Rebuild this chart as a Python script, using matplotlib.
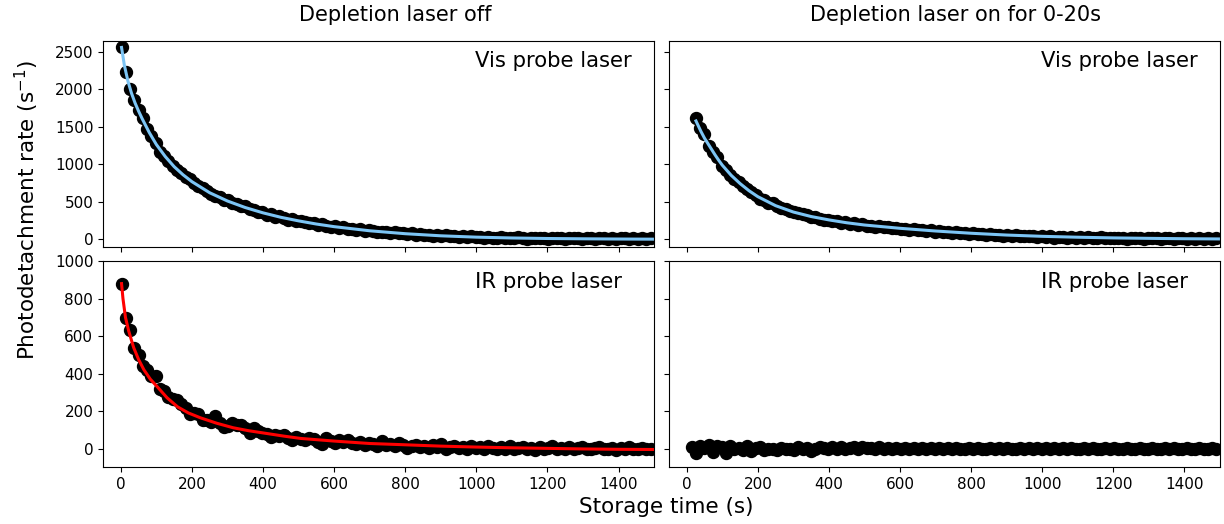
# Photodetachment rate vs storage time, 2x2 panel figure
import matplotlib
matplotlib.use("Agg")
import matplotlib.pyplot as plt

# ---------------------------------------
# Data
# ---------------------------------------
time_s = [
    2, 14, 26, 38, 50, 62, 74, 86, 98, 110,
    122, 134, 146, 158, 170, 182, 194, 206, 218, 230,
    242, 254, 266, 278, 290, 302, 314, 326, 338, 350,
    362, 374, 386, 398, 410, 422, 434, 446, 458, 470,
    482, 494, 506, 518, 530, 542, 554, 566, 578, 590,
    602, 614, 626, 638, 650, 662, 674, 686, 698, 710,
    722, 734, 746, 758, 770, 782, 794, 806, 818, 830,
    842, 854, 866, 878, 890, 902, 914, 926, 938, 950,
    962, 974, 986, 998, 1010, 1022, 1034, 1046, 1058, 1070,
    1082, 1094, 1106, 1118, 1130, 1142, 1154, 1166, 1178, 1190,
    1202, 1214, 1226, 1238, 1250, 1262, 1274, 1286, 1298, 1310,
    1322, 1334, 1346, 1358, 1370, 1382, 1394, 1406, 1418, 1430,
    1442, 1454, 1466, 1478, 1490,
]

# Vis probe, depletion laser off (all time bins)
vis_off = [
    2570, 2230, 2010, 1860, 1720, 1620, 1470, 1380, 1280, 1170,
    1110, 1040, 975, 930, 880, 830, 800, 750, 710, 690,
    640, 605, 585, 560, 520, 520, 480, 475, 440, 440,
    400, 395, 360, 365, 330, 335, 300, 310, 290, 265,
    275, 250, 240, 230, 215, 220, 195, 200, 185, 170,
    175, 155, 160, 140, 145, 130, 135, 115, 125, 110,
    105, 95, 100, 85, 95, 80, 85, 70, 80, 65,
    70, 55, 65, 50, 60, 45, 55, 40, 50, 35,
    45, 30, 40, 30, 35, 20, 30, 25, 15, 30,
    20, 25, 15, 30, 20, 10, 25, 20, 15, 25,
    10, 20, 15, 25, 10, 20, 15, 20, 10, 25,
    15, 10, 20, 15, 10, 20, 5, 15, 20, 10,
    15, 5, 20, 10, 15,
]

# Vis probe, depletion laser on (starts at the 3rd time bin)
vis_on = [
    1620, 1480, 1400, 1250, 1170, 1100, 980, 930,
    860, 810, 760, 710, 670, 630, 590, 540, 525, 490,
    480, 445, 420, 410, 385, 360, 355, 335, 325, 300,
    295, 275, 265, 260, 245, 240, 225, 230, 210, 215,
    195, 200, 180, 185, 170, 175, 160, 165, 150, 155,
    140, 145, 130, 135, 120, 130, 110, 120, 105, 110,
    95, 105, 90, 95, 80, 90, 75, 85, 70, 75,
    60, 70, 55, 65, 50, 60, 45, 55, 40, 50,
    40, 45, 35, 40, 30, 40, 25, 35, 30, 20,
    35, 25, 30, 20, 30, 25, 15, 30, 20, 25,
    15, 25, 20, 10, 25, 15, 20, 10, 20, 15,
    25, 10, 20, 15, 10, 20, 15, 5, 20, 10,
    15, 10, 20, 5, 15,
]

# IR probe, depletion laser off (all time bins)
ir_off = [
    880, 695, 635, 535, 500, 440, 420, 385, 385, 320,
    305, 275, 265, 260, 240, 215, 185, 190, 185, 150,
    150, 140, 175, 135, 115, 120, 135, 125, 128, 110,
    85, 110, 95, 85, 80, 60, 70, 65, 75, 55,
    48, 60, 50, 45, 57, 50, 35, 25, 57, 40,
    30, 45, 35, 48, 30, 25, 35, 20, 30, 25,
    15, 39, 20, 25, 15, 30, 20, 5, 15, 20,
    10, 15, 5, 20, 10, 25, 0, 10, 15, 5,
    10, 0, 15, 5, 10, 0, 15, 5, -5, 10,
    0, 15, -5, 5, 10, 0, 5, -10, 10, 0,
    5, 15, -5, 5, 0, 10, -5, 5, 10, 0,
    -5, 5, 10, -5, 0, 5, -10, 5, 0, 10,
    -5, 0, 5, -5, 0,
]

# IR probe, depletion laser on (starts at the 2nd time bin)
ir_on = [
    10, -25, 15, 5, 18, -20, 15, 10, -25,
    15, 0, 5, -10, 15, -15, 5, 10, -10, 0,
    -5, -10, 5, -5, 0, -10, 10, -5, 5, -15,
    0, 10, 5, -5, 8, 0, 10, -5, 5, 8,
    -5, 10, 3, 5, 0, 8, -3, 5, 0, 3,
    -2, 5, 0, 3, -3, 2, 0, 5, -3, 2,
    0, 5, -2, 3, -5, 0, 2, -3, 4, -2,
    0, 3, -3, 2, 0, 4, -2, 0, 2, -3,
    3, 0, 2, -2, 3, 0, 5, -2, 2, 0,
    4, -3, 0, 2, -2, 3, 0, -3, 2, 0,
    3, -2, 0, 2, -3, 0, 3, 0, -2, 2,
    0, -3, 2, 0, 3, -2, 0, 2, -3, 0,
    2, 0, -2, 3, 0,
]

# Fitted curves (sampled off the figure)
fit_t_vis_off = [2, 10, 20, 30, 40, 50, 60, 80, 100, 125, 150, 175, 200, 250, 300,
                 350, 400, 450, 500, 550, 600, 700, 800, 900, 1000, 1100, 1200, 1300, 1400, 1500]
fit_vis_off = [2560, 2320, 2110, 1950, 1820, 1710, 1610, 1425, 1265, 1105, 970, 862, 770, 622, 512,
               425, 354, 295, 247, 205, 170, 115, 76, 48, 30, 19, 12, 8, 5, 3]

fit_t_vis_on = [26, 40, 50, 60, 70, 80, 90, 100, 125, 150, 175, 200, 250, 300, 350,
                400, 450, 500, 600, 700, 800, 900, 1000, 1100, 1200, 1300, 1400, 1500]
fit_vis_on = [1580, 1440, 1350, 1275, 1200, 1125, 1055, 990, 855, 745, 650, 570, 450, 365, 305,
              260, 222, 192, 148, 112, 82, 58, 41, 29, 20, 14, 9, 6]

fit_t_ir_off = [2, 6, 13, 22, 36, 50, 65, 83, 100, 130, 160, 190, 224, 270, 316,
                360, 412, 460, 506, 600, 700, 788, 900, 1000, 1100, 1200, 1300, 1400, 1500]
fit_ir_off = [880, 800, 700, 628, 539, 475, 420, 370, 335, 271, 222, 190, 164, 135, 111,
              95, 80, 66, 54, 40, 27, 21, 13, 8, 4, 1, -2, -4, -5]

col_titles = ["Depletion laser off", "Depletion laser on for 0-20s"]
row_labels = ["Vis probe laser", "IR probe laser"]

vis_blue = "#7cc4f4"

# ---------------------------------------
# Figure
# ---------------------------------------
fig, axes = plt.subplots(2, 2, figsize=(12.24, 5.24), dpi=100, sharex=True, sharey="row")
plt.subplots_adjust(left=0.0842, right=0.9967, top=0.9223, bottom=0.1082,
                    wspace=0.027, hspace=0.069)

mk = dict(marker="o", linestyle="none", color="black", markersize=8.6)

ax = axes[0, 0]
ax.plot(time_s, vis_off, **mk)
ax.plot(fit_t_vis_off, fit_vis_off, color=vis_blue, lw=2.2)

ax = axes[0, 1]
ax.plot(time_s[2:], vis_on, **mk)
ax.plot(fit_t_vis_on, fit_vis_on, color=vis_blue, lw=2.2)

ax = axes[1, 0]
ax.plot(time_s, ir_off, **mk)
ax.plot(fit_t_ir_off, fit_ir_off, color="red", lw=2.2)

ax = axes[1, 1]
ax.plot(time_s[1:], ir_on, **mk)

for i in range(2):
    for j in range(2):
        ax = axes[i, j]
        ax.text(0.675, 0.9, row_labels[i], transform=ax.transAxes,
                fontsize=15.2, ha="left", va="center")
        ax.tick_params(labelsize=11)

axes[0, 0].set_xlim(-50, 1500)
axes[0, 0].set_xticks([0, 200, 400, 600, 800, 1000, 1200, 1400])
axes[0, 0].set_ylim(-100, 2650)
axes[0, 0].set_yticks([0, 500, 1000, 1500, 2000, 2500])
axes[1, 0].set_ylim(-100, 1000)
axes[1, 0].set_yticks([0, 200, 400, 600, 800, 1000])

# column titles and shared axis labels
fig.text(395 / 1224, 1 - 15 / 524, col_titles[0], fontsize=15, ha="center", va="center")
fig.text(955 / 1224, 1 - 15 / 524, col_titles[1], fontsize=15, ha="center", va="center")
fig.text(666 / 1224, 1 - 507 / 524, "Storage time (s)", fontsize=15.5, ha="center", va="center")
fig.text(27 / 1224, 1 - 210 / 524, "Photodetachment rate (s$^{-1}$)", fontsize=15.5,
         ha="center", va="center", rotation=90)

fig.savefig("out.png", dpi=100)
